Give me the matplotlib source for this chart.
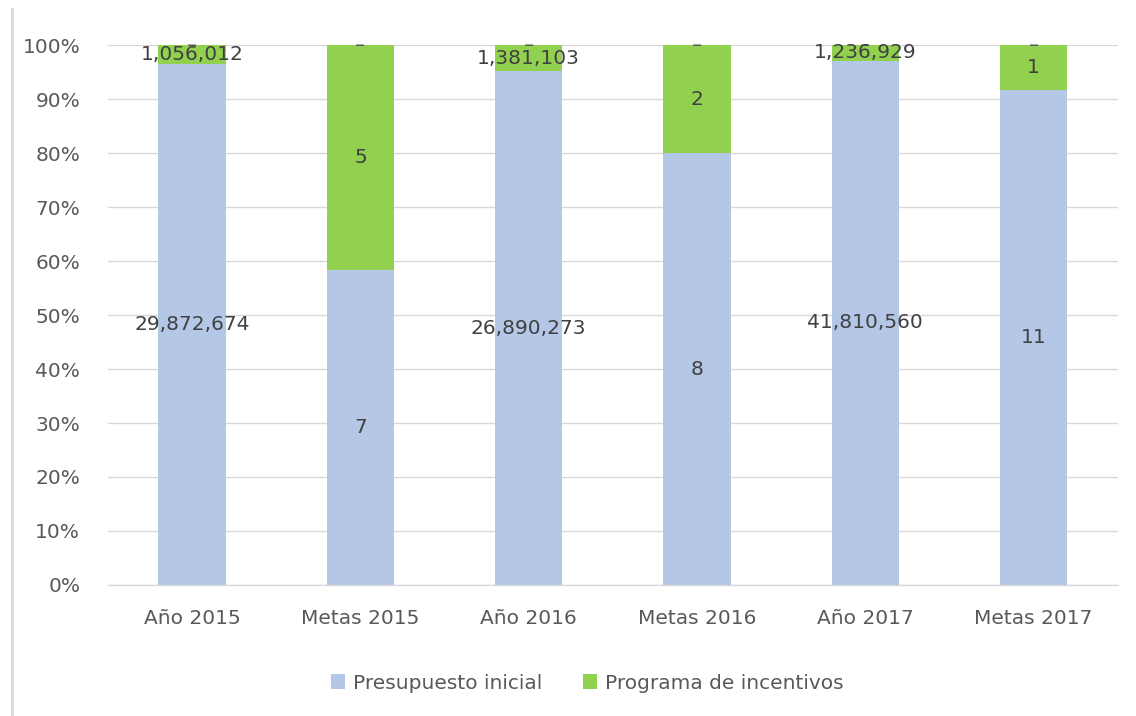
import matplotlib
matplotlib.use("Agg")
import matplotlib.pyplot as plt
from matplotlib.lines import Line2D
import numpy as np

categories = ["Año 2015", "Metas 2015", "Año 2016", "Metas 2016", "Año 2017", "Metas 2017"]
presupuesto = [29872674, 7, 26890273, 8, 41810560, 11]
incentivos = [1056012, 5, 1381103, 2, 1236929, 1]
otros = [0, 0, 0, 0, 0, 0]
series_names = ["Presupuesto inicial", "Programa de incentivos"]
yticks = [0, 0.1, 0.2, 0.3, 0.4, 0.5, 0.6, 0.7, 0.8, 0.9, 1.0]

plt.rcParams['font.family'] = ['DejaVu Sans']
blue = "#B4C7E7"
green = "#92D050"
label_color = "#404040"
tick_color = "#595959"

fig = plt.figure(figsize=(11.36, 7.16), dpi=100)
ax = fig.add_axes([0.095, 0.183, 0.889, 0.754])

p = np.array(presupuesto, dtype=float)
g = np.array(incentivos, dtype=float)
o = np.array(otros, dtype=float)
tot = p + g + o
pf = p / tot
gf = g / tot
x = np.arange(len(categories))
w = 0.4

ax.bar(x, pf, w, color=blue, label=series_names[0], zorder=2)
ax.bar(x, gf, w, bottom=pf, color=green, label=series_names[1], zorder=2)

for i in range(len(categories)):
    ax.text(x[i], pf[i] / 2, f"{presupuesto[i]:,}", ha="center", va="center",
            fontsize=14.5, color=label_color, zorder=4)
    ax.text(x[i], pf[i] + gf[i] / 2, f"{incentivos[i]:,}", ha="center", va="center",
            fontsize=14.5, color=label_color, zorder=4)
    ax.text(x[i], 0.999, "–", ha="center", va="center", fontsize=14.5,
            color=tick_color, zorder=3)

ax.set_xlim(-0.5, len(categories) - 0.5)
ax.set_ylim(0, 1)
ax.set_yticks(yticks)
ax.set_yticklabels([f"{int(round(t * 100))}%" for t in yticks])
ax.set_xticks(x)
ax.set_xticklabels(categories)
ax.tick_params(axis="both", length=0, labelsize=14.5, labelcolor=tick_color)
ax.tick_params(axis="y", pad=20)
ax.tick_params(axis="x", pad=17)
ax.yaxis.grid(True, color="#D9D9D9", linewidth=1, zorder=0)
ax.set_axisbelow(True)
for s in ["top", "right", "left"]:
    ax.spines[s].set_visible(False)
ax.spines["bottom"].set_color("#D9D9D9")
ax.spines["bottom"].set_linewidth(1)

fig.legend(loc="center", bbox_to_anchor=(0.517, 0.046), ncol=2, frameon=False,
           fontsize=14.5, labelcolor=tick_color, handlelength=0.7, handleheight=0.7,
           handletextpad=0.4, columnspacing=2.0)

fig.add_artist(Line2D([12 / 1136, 12 / 1136], [0, 1 - 9 / 716], transform=fig.transFigure,
                      color="#D9D9D9", linewidth=2))

fig.savefig("out.png", dpi=100)
